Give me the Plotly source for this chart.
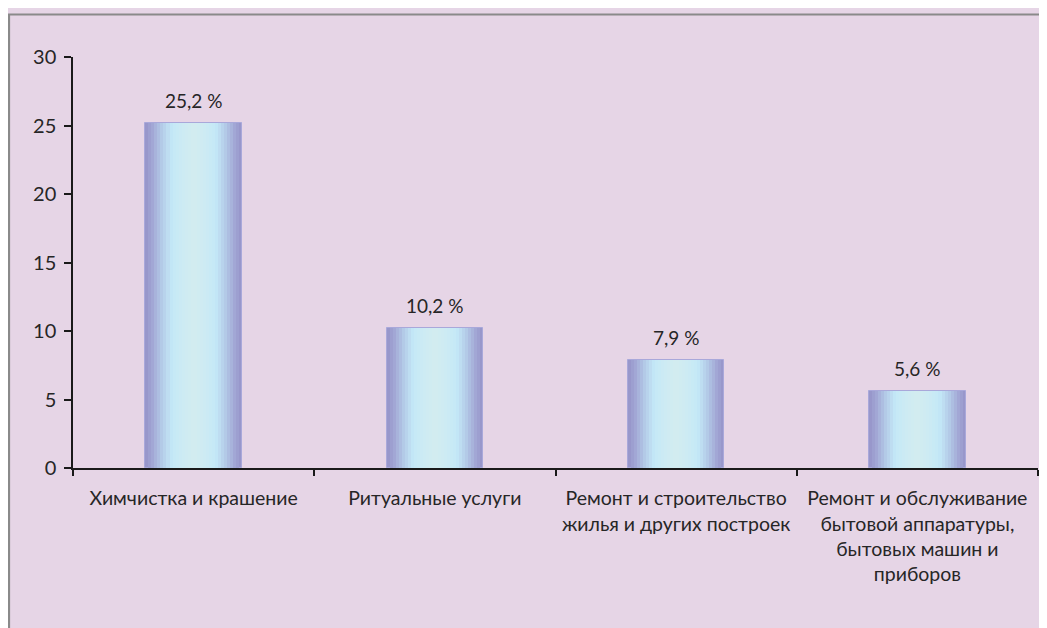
import plotly.graph_objects as go

categories = [
    "Химчистка и крашение",
    "Ритуальные услуги",
    "Ремонт и строительство<br>жилья и других построек",
    "Ремонт и обслуживание<br>бытовой аппаратуры,<br>бытовых машин и<br>приборов",
]
values = [25.2, 10.2, 7.9, 5.6]
labels = ["25,2 %", "10,2 %", "7,9 %", "5,6 %"]
y_ticks = [0, 5, 10, 15, 20, 25, 30]

BG = "#E6D5E6"
FONT = "Lato"
TXT = "#262626"
FS = 19.5

# gradient profile of the bars: edge (t=0) -> centre (t=1)
stops = [(0.0, (0x96, 0x93, 0xC9)), (0.15, (0xA1, 0xA6, 0xD4)), (0.35, (0xB4, 0xCB, 0xE8)),
         (0.55, (0xC4, 0xE9, 0xF7)), (0.78, (0xCD, 0xEB, 0xF3)), (1.0, (0xD3, 0xEC, 0xF0))]


def col(t):
    for (t0, c0), (t1, c1) in zip(stops, stops[1:]):
        if t <= t1:
            f = (t - t0) / (t1 - t0)
            return "rgb(%d,%d,%d)" % tuple(round(a + (b - a) * f) for a, b in zip(c0, c1))
    return "rgb(%d,%d,%d)" % stops[-1][1]


BAR_W = 0.4
N = 16
fig = go.Figure()
for k in range(N):
    t = k / N
    w = BAR_W * (1 - t)
    fig.add_trace(go.Bar(
        x=categories, y=values, width=w,
        marker=dict(color=col(t + 0.5 / N),
                    line=dict(width=1 if k == 0 else 0, color="#A9A8DA")),
        hoverinfo="skip", showlegend=False,
    ))

for c, v, lab in zip(categories, values, labels):
    fig.add_annotation(x=c, y=v, text=lab, showarrow=False,
                       yanchor="bottom", yshift=9,
                       font=dict(family=FONT, size=19, color=TXT))

# outer frame
fig.add_shape(type="rect", xref="paper", yref="paper",
              x0=-0.0663, x1=1.05, y0=-0.45, y1=1.1034,
              line=dict(color="#8A8A8A", width=2.2), layer="below")

fig.update_layout(
    width=1039, height=620,
    paper_bgcolor=BG, plot_bgcolor=BG,
    barmode="overlay", bargap=0,
    margin=dict(l=65, r=9, t=49, b=160),
    font=dict(family=FONT, size=FS, color=TXT),
    xaxis=dict(type="category", range=[-0.5, 3.5], showgrid=False,
               showline=True, linecolor="#1a1a1a", linewidth=1.5,
               ticks="outside", tickson="boundaries", ticklen=6, tickwidth=1.5,
               tickcolor="#1a1a1a", ticklabelstandoff=12,
               tickfont=dict(family=FONT, size=FS, color=TXT)),
    yaxis=dict(range=[0, 30], tickvals=y_ticks, showgrid=False, zeroline=False,
               showline=True, linecolor="#1a1a1a", linewidth=1.5,
               ticks="outside", ticklen=7, tickwidth=1.5, tickcolor="#1a1a1a",
               ticklabelstandoff=4,
               tickfont=dict(family=FONT, size=20, color=TXT)),
)

fig.write_html("out.html")
